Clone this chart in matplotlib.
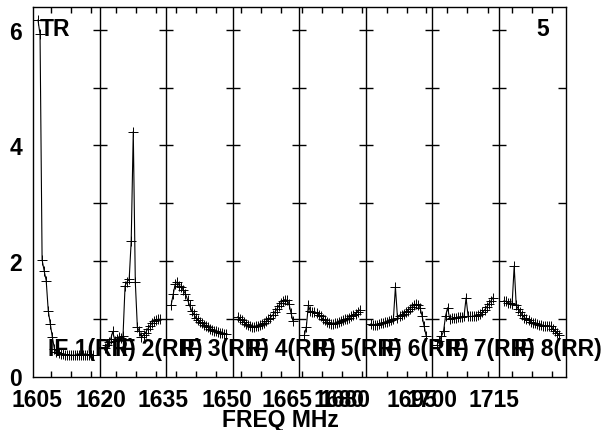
import numpy as np
import matplotlib
matplotlib.use('Agg')
import matplotlib.pyplot as plt

plt.rcParams['font.family'] = ['Liberation Sans', 'DejaVu Sans']

# Spectra per IF, 28 channels each
if1 = [6.17, 5.92, 2.02, 1.83, 1.66, 1.14, 0.91, 0.68, 0.48, 0.42, 0.40, 0.39, 0.39, 0.38,
       0.38, 0.38, 0.37, 0.37, 0.37, 0.37, 0.37, 0.37, 0.37, 0.37, 0.38, 0.38, 0.38, 0.38]
if2 = [0.50, 0.55, 0.60, 0.65, 0.78, 0.62, 0.65, 0.68, 0.66, 0.70, 1.57, 1.64, 1.68, 2.35,
       4.24, 1.63, 0.85, 0.78, 0.68, 0.72, 0.76, 0.82, 0.87, 0.92, 0.96, 0.98, 0.99, 0.99]
if3 = [1.23, 1.42, 1.60, 1.64, 1.57, 1.55, 1.49, 1.43, 1.33, 1.23, 1.14, 1.08, 1.02, 0.98,
       0.95, 0.92, 0.90, 0.88, 0.85, 0.83, 0.81, 0.79, 0.78, 0.77, 0.76, 0.75, 0.74, 0.73]
if4 = [1.03, 1.00, 0.97, 0.94, 0.91, 0.89, 0.87, 0.86, 0.86, 0.87, 0.88, 0.89, 0.91, 0.93,
       0.96, 0.99, 1.02, 1.06, 1.11, 1.16, 1.22, 1.27, 1.31, 1.33, 1.32, 1.26, 1.10, 0.96]
if5 = [0.71, 0.85, 1.23, 1.13, 1.12, 1.11, 1.10, 1.07, 1.04, 1.00, 0.97, 0.94, 0.92, 0.91,
       0.91, 0.92, 0.93, 0.95, 0.96, 0.97, 0.99, 1.00, 1.02, 1.04, 1.07, 1.09, 1.12, 1.15]
if6 = [0.91, 0.90, 0.90, 0.90, 0.91, 0.92, 0.93, 0.94, 0.95, 0.96, 0.98, 0.99, 1.55, 1.02,
       1.04, 1.06, 1.09, 1.11, 1.14, 1.17, 1.20, 1.23, 1.25, 1.24, 1.19, 1.05, 0.87, 0.70]
if7 = [0.55, 0.62, 0.70, 0.78, 1.05, 1.19, 1.00, 1.01, 1.02, 1.02, 1.03, 1.03, 1.03, 1.04,
       1.36, 1.04, 1.04, 1.04, 1.04, 1.05, 1.06, 1.08, 1.11, 1.15, 1.20, 1.25, 1.30, 1.36]
if8 = [1.31, 1.30, 1.28, 1.27, 1.26, 1.91, 1.23, 1.17, 1.11, 1.06, 1.02, 0.99, 0.97, 0.95,
       0.93, 0.92, 0.91, 0.90, 0.89, 0.88, 0.88, 0.88, 0.88, 0.87, 0.82, 0.78, 0.75, 0.72]
spectra = [if1, if2, if3, if4, if5, if6, if7, if8]
if_names = ['IF 1(RR)', 'IF 2(RR)', 'IF 3(RR)', 'IF 4(RR)',
            'IF 5(RR)', 'IF 6(RR)', 'IF 7(RR)', 'IF 8(RR)']

# frequency axis labels (MHz) as printed
xlab_pos = [1605, 1620.4, 1635.2, 1650.5, 1665.1, 1677.5, 1679.0, 1695.0, 1699.8, 1714.9]
xlab_txt = ['1605', '1620', '1635', '1650', '1665', '1680', '1680', '1695', '1700', '1715']
xminor = [1608.33, 1613.14, 1617.96, 1623.97, 1628.78, 1633.60, 1638.41, 1643.22, 1648.03,
          1653.98, 1658.79, 1663.60, 1668.65, 1673.47, 1678.28, 1683.09, 1689.11, 1693.92,
          1698.56, 1703.54, 1708.36, 1713.31, 1719.18, 1724.00, 1728.81]

f_start = 1604.0
if_width = 16.0
n_if = 8

fig = plt.figure(figsize=(6.07, 4.31), dpi=100)
ax = fig.add_axes([33/607, 1 - 377.5/431, 532.5/607, 369.2/431])

fs = 16.5
for i, vals in enumerate(spectra):
    p0 = f_start + i * if_width
    freq = p0 + 1.2 + 0.493 * np.arange(len(vals))
    ax.plot(freq, vals, color='black', lw=0.8, marker='+', ms=6.5, mew=0.7)
    ax.text(p0 + 3.6, 0.37, if_names[i], fontsize=fs, fontweight='bold',
            ha='left', va='baseline', clip_on=False, zorder=5)

# panel dividers with cross ticks
for i in range(1, n_if):
    b = f_start + i * if_width
    ax.axvline(b, color='black', lw=1.0)
    ax.plot([b] * 6, [1, 2, 3, 4, 5, 6], ls='none', marker='_', ms=9.5,
            mew=1.0, color='black')

ax.set_xlim(f_start, f_start + n_if * if_width)
ax.set_ylim(0, 6.39)

ax.set_xticks(xlab_pos)
ax.set_xticklabels(xlab_txt, fontsize=fs, fontweight='bold')
ax.set_xticks(xminor, minor=True)
ax.tick_params(axis='x', which='major', length=0, pad=8)
ax.tick_params(axis='x', which='minor', direction='in', length=4.5, width=1,
               top=True, bottom=True)

ax.set_yticks([0, 2, 4, 6])
ax.set_yticklabels(['0', '2', '4', '6'], fontsize=fs, fontweight='bold')
ax.set_yticks([1, 2, 3, 4, 5, 6], minor=True)
ax.tick_params(axis='y', which='major', length=0, pad=8)
ax.tick_params(axis='y', which='minor', direction='in', length=5.5, width=1,
               left=False, right=True)

for s in ax.spines.values():
    s.set_linewidth(1.0)
    s.set_color('black')

ax.text(0.013, 0.925, 'TR', transform=ax.transAxes, fontsize=fs,
        fontweight='bold', ha='left', va='baseline')
ax.text(0.969, 0.925, '5', transform=ax.transAxes, fontsize=fs,
        fontweight='bold', ha='right', va='baseline')

fig.text(280/607, 1 - 409/431, 'FREQ MHz', fontsize=fs, fontweight='bold',
         ha='center', va='top')

fig.savefig('out.png', dpi=100)
